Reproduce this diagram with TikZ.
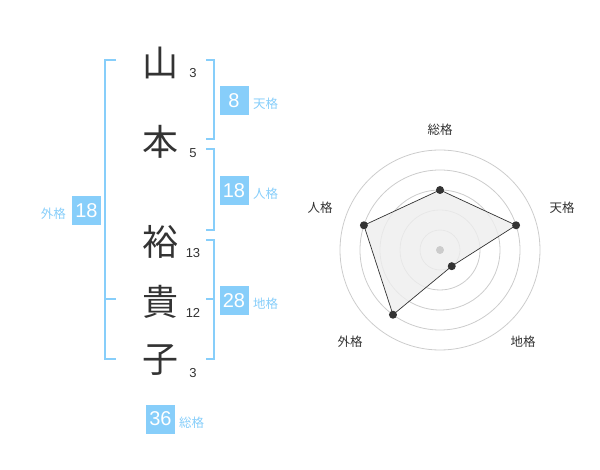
\documentclass[tikz,border=0pt]{standalone}
\usepackage{fontspec}
\setmainfont{Liberation Sans}
\newfontfamily\jpfont{Noto Sans CJK JP}
\usepackage{tikz}
\usetikzlibrary{positioning}
\usetikzlibrary{calc}
\definecolor{kakublue}{HTML}{87CEFA}
\definecolor{inkgray}{HTML}{333333}
\definecolor{ringgray}{HTML}{CCCCCC}
\definecolor{areagray}{HTML}{EEEEEE}
\tikzset{
  kanji/.style={font=\jpfont\fontsize{36}{36}\selectfont, text=inkgray, inner sep=0pt},
  strokes/.style={font=\fontsize{13}{13}\selectfont, text=inkgray, inner sep=0pt},
  kakubox/.style={fill=kakublue, text=white, minimum size=29pt, inner sep=0pt, font=\fontsize{20}{20}\selectfont},
  kakulabel/.style={font=\jpfont\fontsize{12.5}{12.5}\selectfont, text=kakublue, inner sep=0pt},
  bracket/.style={draw=kakublue, line width=2pt},
  ring/.style={draw=ringgray, line width=0.8pt},
  radarlabel/.style={font=\jpfont\fontsize{12.5}{12.5}\selectfont, text=inkgray, inner sep=0pt}
}
\begin{document}
\begin{tikzpicture}[x=1pt,y=-1pt]
\useasboundingbox (0,0) rectangle (600,470);
\newcommand{\Ring}{20}

% name, one character per row
\node[kanji] (c1) at (160,63) {山};
\node[kanji] (c2) at (160,142) {本};
\node[kanji] (c3) at (160,242) {裕};
\node[kanji] (c4) at (160,302) {貴};
\node[kanji] (c5) at (160,360) {子};

\node[strokes] (s1) at (193,73) {3};
\node[strokes] (s2) at (193,153) {5};
\node[strokes] (s3) at (193,253) {13};
\node[strokes] (s4) at (193,313) {12};
\node[strokes] (s5) at (193,373) {3};

% brackets
\draw[bracket] (116,60) -- (105,60) -- (105,359) -- (116,359);% Gai
\draw[bracket] (105,299) -- (116,299);
\draw[bracket] (206,60) -- (214,60) -- (214,139) -- (206,139);% Ten
\draw[bracket] (206,149) -- (214,149) -- (214,230) -- (206,230);% Jin
\draw[bracket] (206,240) -- (214,240) -- (214,359) -- (206,359);% Chi
\draw[bracket] (206,299) -- (214,299);

% values
\node[kakubox] (bten) at (234,100.5) {8};
\node[kakulabel, anchor=west] (lten) at (253,104) {天格};
\node[kakubox] (bjin) at (234,190.5) {18};
\node[kakulabel, anchor=west] (ljin) at (253,194) {人格};
\node[kakubox] (bchi) at (234,300.5) {28};
\node[kakulabel, anchor=west] (lchi) at (253,304) {地格};
\node[kakubox] (bgai) at (86.5,210.5) {18};
\node[kakulabel, anchor=east] (lgai) at (66,214) {外格};
\node[kakubox] (bsou) at (160.5,419) {36};
\node[kakulabel, anchor=west] (lsou) at (179,423) {総格};

% radar chart
\coordinate (R) at (440,250);
\foreach \r in {1,...,5}
  \draw[ring] (R) circle (\r*\Ring);
\foreach \ang/\val/\name in {-90/3/sou,-18/4/ten,54/1/chi,126/4/gai,198/4/jin}
  \coordinate (\name) at ($(R)+(\ang:\val*\Ring)$);
\draw[inkgray, line width=0.7pt, fill=areagray, fill opacity=0.8] (sou) -- (ten) -- (chi) -- (gai) -- (jin) -- cycle;
\foreach \name in {sou,ten,chi,gai,jin}
  \fill[inkgray] (\name) circle (4);
\fill[ringgray] (R) circle (4);

\node[radarlabel] (rsou) at (440,130) {総格};
\node[radarlabel] (rten) at (562,208) {天格};
\node[radarlabel] (rchi) at (523,342) {地格};
\node[radarlabel] (rgai) at (350,342) {外格};
\node[radarlabel] (rjin) at (320,208) {人格};
\end{tikzpicture}
\end{document}
